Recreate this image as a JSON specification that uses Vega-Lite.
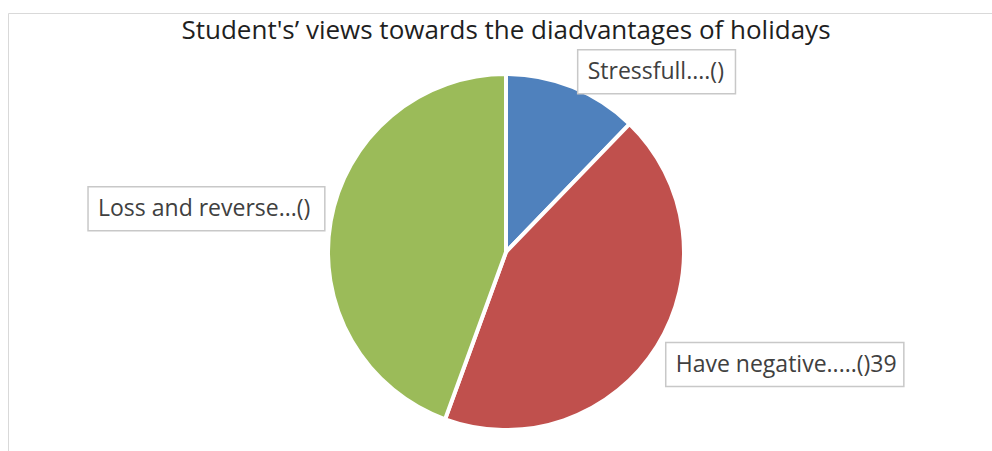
{
  "$schema": "https://vega.github.io/schema/vega-lite/v6.json",
  "width": 984,
  "height": 438,
  "autosize": {"type": "none"},
  "padding": {"left": 8, "top": 13, "right": 0, "bottom": 0},
  "background": "white",
  "config": {"view": {"stroke": "#d9d9d9", "strokeWidth": 1}},
  "title": {
    "text": "Student's’ views towards the diadvantages of holidays",
    "font": "Open Sans",
    "fontSize": 26,
    "fontWeight": "normal",
    "color": "#1f1f1f",
    "offset": -29,
    "dy": 23,
    "baseline": "alphabetic",
    "frame": "group",
    "anchor": "middle",
    "dx": 6
  },
  "data": {
    "values": [
      {"label": "Stressfull....()", "value": 11, "idx": 1},
      {"label": "Have negative.....()39", "value": 39, "idx": 2},
      {"label": "Loss and reverse...()", "value": 40, "idx": 3}
    ]
  },
  "transform": [
    {"window": [{"op": "sum", "field": "value", "as": "cum"}], "sort": [{"field": "idx"}], "frame": [null, 0]},
    {"joinaggregate": [{"op": "sum", "field": "value", "as": "total"}]},
    {"calculate": "(datum.cum - datum.value/2)/datum.total*2*PI", "as": "mid"},
    {"calculate": "186*sin(datum.mid) + 2", "as": "ax"},
    {"calculate": "198*cos(datum.mid) - 9*sin(datum.mid)", "as": "cy"},
    {"calculate": "length(replace(datum.label, /[.()ilft]/g, ''))", "as": "nw"},
    {"calculate": "length(replace(datum.label, /[^0-9]/g, ''))", "as": "nd"},
    {"calculate": "11.3*datum.nw + 6.8*(length(datum.label)-datum.nw) + 4*datum.nd + 22", "as": "bw"},
    {"calculate": "datum.ax >= 0 ? datum.ax : datum.ax - datum.bw", "as": "bx1"},
    {"calculate": "datum.bx1 + datum.bw", "as": "bx2"},
    {"calculate": "datum.cy - 22", "as": "by1"},
    {"calculate": "datum.cy + 22", "as": "by2"},
    {"calculate": "datum.bx1 + 10", "as": "tx"}
  ],
  "layer": [
    {
      "mark": {"type": "arc", "outerRadius": 178, "stroke": "white", "strokeWidth": 4, "x": 498, "y": 239},
      "encoding": {
        "theta": {"field": "value", "type": "quantitative", "stack": true},
        "order": {"field": "idx", "type": "quantitative"},
        "color": {
          "field": "label",
          "type": "nominal",
          "scale": {
            "domain": ["Stressfull....()", "Have negative.....()39", "Loss and reverse...()"],
            "range": ["#4F81BD", "#C0504D", "#9BBB59"]
          },
          "legend": null
        }
      }
    },
    {
      "mark": {"type": "rect", "fill": "white", "stroke": "#c8c8c8", "strokeWidth": 1.5},
      "encoding": {
        "x": {"field": "bx1", "type": "quantitative", "scale": {"domain": [-498, 486], "nice": false, "zero": false}, "axis": null},
        "x2": {"field": "bx2"},
        "y": {"field": "by1", "type": "quantitative", "scale": {"domain": [-199, 239], "nice": false, "zero": false}, "axis": null},
        "y2": {"field": "by2"}
      }
    },
    {
      "mark": {"type": "text", "align": "left", "baseline": "middle", "font": "Open Sans", "fontSize": 23, "color": "#404040"},
      "encoding": {
        "x": {"field": "tx", "type": "quantitative", "scale": {"domain": [-498, 486], "nice": false, "zero": false}, "axis": null},
        "y": {"field": "cy", "type": "quantitative", "scale": {"domain": [-199, 239], "nice": false, "zero": false}, "axis": null},
        "text": {"field": "label"}
      }
    }
  ]
}
